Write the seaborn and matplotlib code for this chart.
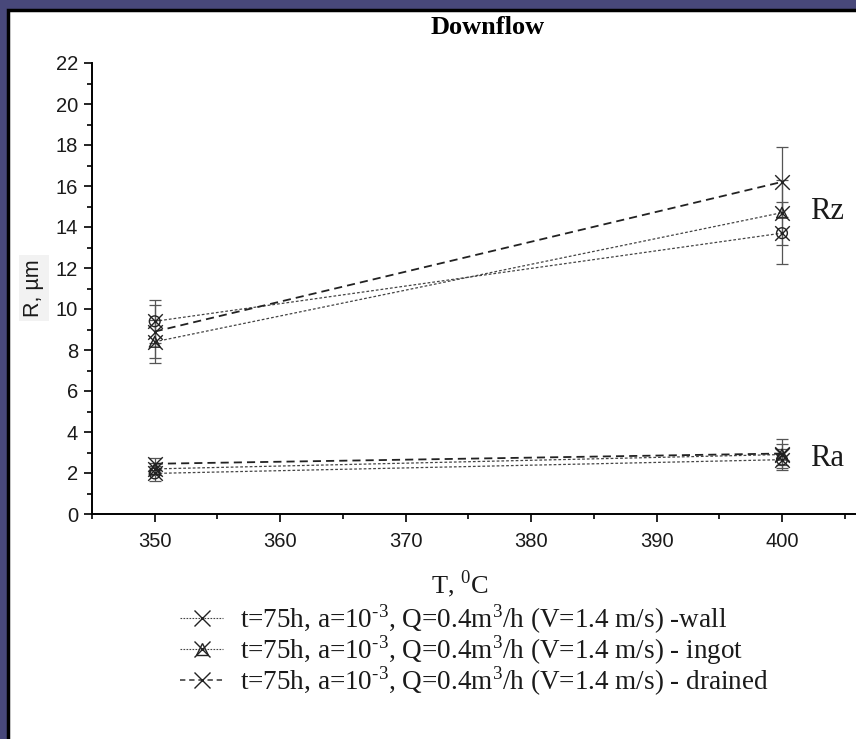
import matplotlib
matplotlib.use("Agg")
import matplotlib.pyplot as plt
from matplotlib.lines import Line2D
from matplotlib.patches import Rectangle
from matplotlib.legend_handler import HandlerTuple
from matplotlib.ticker import MultipleLocator
import pandas as pd
import seaborn as sns

# Temperatures (deg C)
temps = [350, 400]

# Rz roughness (um) and error half-widths
rz_wall = [9.4, 13.7]
rz_wall_err = [1.05, 1.5]
rz_ingot = [8.4, 14.7]
rz_ingot_err = [1.05, 1.6]
rz_drained = [8.9, 16.2]
rz_drained_err = [1.3, 1.7]

# Ra roughness (um) and error half-widths
ra_wall = [1.98, 2.65]
ra_wall_err = [0.35, 0.5]
ra_ingot = [2.2, 2.9]
ra_ingot_err = [0.3, 0.5]
ra_drained = [2.45, 2.95]
ra_drained_err = [0.3, 0.7]

legend_labels = [
    r"t=75h, a=10$^{\mathregular{‐3}}$, Q=0.4m$^{\mathregular{3}}$/h (V=1.4 m/s) -wall",
    r"t=75h, a=10$^{\mathregular{‐3}}$, Q=0.4m$^{\mathregular{3}}$/h (V=1.4 m/s) - ingot",
    r"t=75h, a=10$^{\mathregular{‐3}}$, Q=0.4m$^{\mathregular{3}}$/h (V=1.4 m/s) - drained",
]

sns.set_style("ticks")
plt.rcParams["mathtext.fontset"] = "custom"
plt.rcParams["mathtext.rm"] = "Liberation Serif"
plt.rcParams["axes.unicode_minus"] = False

SERIF = ["Liberation Serif", "DejaVu Serif"]
SANS = ["Liberation Sans", "DejaVu Sans"]
INK = "#1a1a1a"

fig = plt.figure(figsize=(8.56, 7.39), dpi=100)
fig.patch.set_facecolor("#48487a")
# white slide panel with dark frame
panel = Rectangle((8 / 856, -0.01), 1.0, 1.01 - 10 / 739, transform=fig.transFigure,
                  facecolor="white", edgecolor="black", linewidth=2.5, zorder=-10)
fig.add_artist(panel)

ax = fig.add_axes([92 / 856, 1 - 514 / 739, (856 - 92) / 856, (514 - 63) / 739])
ax.set_facecolor("none")
ax.set_zorder(1)

thin_dash = (2.2, 1.6)
bold_dash = (4.5, 2.8)

series = [
    ("wall", rz_wall, rz_wall_err, ra_wall, ra_wall_err, thin_dash, 0.9, "#444444", "o"),
    ("ingot", rz_ingot, rz_ingot_err, ra_ingot, ra_ingot_err, thin_dash, 0.9, "#444444", "^"),
    ("drained", rz_drained, rz_drained_err, ra_drained, ra_drained_err, bold_dash, 1.3, "#222222", None),
]

for name, rz, rz_e, ra, ra_e, dash, lw, col, extra in series:
    for vals, errs in ((rz, rz_e), (ra, ra_e)):
        df = pd.DataFrame({"T": temps, "R": vals})
        ax.errorbar(temps, vals, yerr=errs, fmt="none", ecolor="#555555",
                    elinewidth=0.9, capsize=4.5, capthick=0.9, zorder=2)
        sns.lineplot(data=df, x="T", y="R", ax=ax, color=col, linewidth=lw, zorder=3)
        ax.lines[-1].set_dashes(dash)
        sns.scatterplot(data=df, x="T", y="R", ax=ax, marker="x", s=110,
                        color="#222222", linewidth=1.0, zorder=4)
        if extra is not None:
            ax.scatter(temps, vals, marker=extra, s=60, facecolors="none",
                       edgecolors="#222222", linewidths=1.0, zorder=4)

ax.set_xlim(345, 405.9)
ax.set_ylim(0, 22)
ax.xaxis.set_major_locator(MultipleLocator(10))
ax.xaxis.set_minor_locator(MultipleLocator(5))
ax.yaxis.set_major_locator(MultipleLocator(2))
ax.yaxis.set_minor_locator(MultipleLocator(1))
ax.tick_params(axis="both", which="major", direction="out", length=6, width=1.2,
               color="black", labelsize=14.5, labelcolor=INK)
ax.tick_params(axis="x", which="major", pad=7)
ax.tick_params(axis="y", which="major", pad=4)
ax.tick_params(axis="both", which="minor", direction="out", length=3.5, width=1.2,
               color="black")
for lab in ax.get_xticklabels() + ax.get_yticklabels():
    lab.set_family(SANS)
for side in ("top", "right"):
    ax.spines[side].set_visible(False)
for side in ("left", "bottom"):
    ax.spines[side].set_linewidth(1.4)
    ax.spines[side].set_color("black")
ax.set_xlabel("")
ax.set_ylabel("")

fig.text(460 / 856, 1 - 584 / 739, r"T, $^{\mathregular{0}}$C", ha="center", va="center",
         family=SERIF, fontsize=19, color=INK)
fig.text(34 / 856, 1 - 288 / 739, "R, µm", rotation=90, ha="center", va="center",
         family=SANS, fontsize=15.5, color=INK,
         bbox=dict(facecolor="#f2f2f2", edgecolor="none", pad=3))
fig.text(488 / 856, 1 - 28 / 739, "Downflow", ha="center", va="center",
         family=SERIF, fontsize=19, fontweight="bold", color="black")
fig.text(827 / 856, 1 - 212 / 739, "Rz", ha="center", va="center",
         family=SERIF, fontsize=22, color=INK)
fig.text(827 / 856, 1 - 459 / 739, "Ra", ha="center", va="center",
         family=SERIF, fontsize=22, color=INK)

h_wall = Line2D([], [], color="#444444", lw=0.8, dashes=(1.5, 1.2), marker="x",
                markersize=12, markeredgecolor="#222222", markeredgewidth=1.0)
h_ingot_x = Line2D([], [], color="#444444", lw=0.8, dashes=(1.5, 1.2), marker="x",
                   markersize=12, markeredgecolor="#222222", markeredgewidth=1.0)
h_ingot_t = Line2D([], [], ls="none", marker="^", markersize=9, markerfacecolor="none",
                   markeredgecolor="#222222", markeredgewidth=1.0)
h_drained = Line2D([], [], color="#333333", lw=1.1, dashes=(3.5, 2.5), marker="x",
                   markersize=12, markeredgecolor="#222222", markeredgewidth=1.0)

leg = fig.legend([h_wall, (h_ingot_x, h_ingot_t), h_drained], legend_labels,
                 handler_map={tuple: HandlerTuple(ndivide=1)},
                 loc="center left", bbox_to_anchor=(180 / 856, 1 - 650 / 739),
                 frameon=False, handlelength=1.6, handletextpad=0.6,
                 labelspacing=-0.1, borderpad=0.0, borderaxespad=0.0,
                 prop={"family": SERIF, "size": 19.5})
for t in leg.get_texts():
    t.set_color(INK)

fig.savefig("out.png", dpi=100, facecolor=fig.get_facecolor())
